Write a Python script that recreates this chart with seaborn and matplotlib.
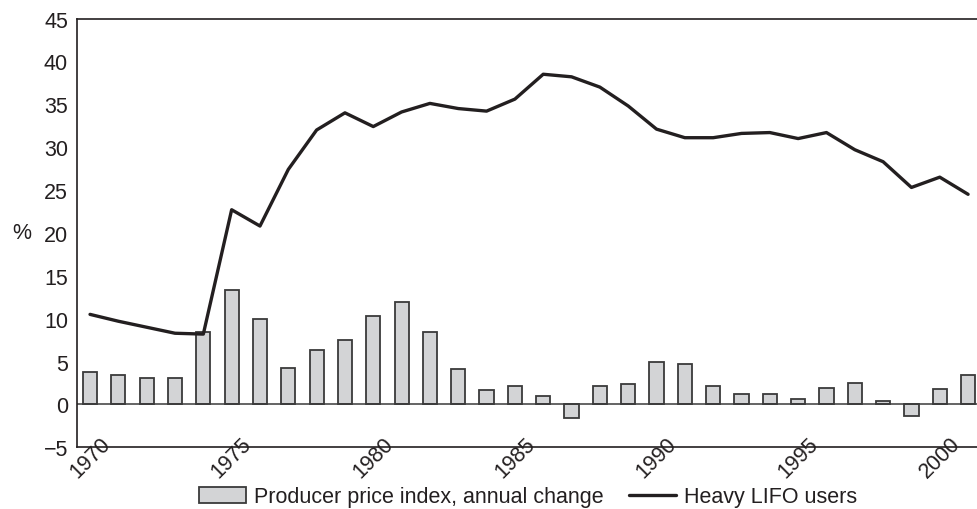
import numpy as np
import pandas as pd
import matplotlib
matplotlib.use("Agg")
import matplotlib.pyplot as plt
import seaborn as sns
from matplotlib.patches import Patch
from matplotlib.lines import Line2D

# Data
years = list(range(1970, 2002))
ppi_change = [3.8, 3.4, 3.1, 3.1, 8.4, 13.4, 10.0, 4.3, 6.3, 7.5,
              10.3, 12.0, 8.4, 4.1, 1.7, 2.2, 1.0, -1.6, 2.1, 2.4,
              5.0, 4.7, 2.1, 1.2, 1.2, 0.6, 1.9, 2.5, 0.4, -1.3,
              1.8, 3.4]
lifo_users = [10.5, 9.7, 9.0, 8.3, 8.2, 22.7, 20.8, 27.4, 32.0, 34.0,
              32.4, 34.1, 35.1, 34.5, 34.2, 35.6, 38.5, 38.2, 37.0, 34.8,
              32.1, 31.1, 31.1, 31.6, 31.7, 31.0, 31.7, 29.7, 28.3, 25.3,
              26.5, 24.5]
tick_years = [1970, 1975, 1980, 1985, 1990, 1995, 2000]
bar_label = "Producer price index, annual change"
line_label = "Heavy LIFO users"

df = pd.DataFrame({"year": years, "ppi": ppi_change, "lifo": lifo_users})

sns.set_style("white")
plt.rcParams['font.family'] = ['Liberation Sans', 'DejaVu Sans']
ink = "#231f20"
fs = 15.5

fig = plt.figure(figsize=(9.78, 5.10), dpi=100)
ax = fig.add_axes([77 / 978, 1 - 448.3 / 510, 1 - 77 / 978, (448.3 - 19.5) / 510])

sns.barplot(data=df, x="year", y="ppi", native_scale=True, width=0.5,
            color="#d3d4d6", edgecolor="#3a3a3a", linewidth=1.3,
            saturation=1, ax=ax)
sns.lineplot(data=df, x="year", y="lifo", color=ink, linewidth=2.4, ax=ax)

ax.axhline(0, color="#3a3a3a", linewidth=1.1, zorder=1)

ax.set_ylim(-5, 45)
ax.set_xlim(1969.54, 2001.35)
ax.set_yticks(range(-5, 50, 5))
ax.set_yticklabels(["\u22125"] + [str(v) for v in range(0, 50, 5)])
ax.set_xticks(tick_years)
ax.set_xticklabels([str(y) for y in tick_years], rotation=45,
                   ha="center", va="center")
ax.tick_params(axis="y", direction="in", length=6, width=1, color=ink,
               labelsize=fs, labelcolor=ink, pad=6.5)
ax.tick_params(axis="x", length=0, labelsize=fs, labelcolor=ink, pad=7)

ax.set_xlabel("")
ax.set_ylabel("%", rotation=0, fontsize=fs, color=ink, ha="center", va="center")
ax.yaxis.set_label_coords((22 - 77) / 901, 0.5)

for side in ["left", "top", "bottom"]:
    ax.spines[side].set_visible(True)
    ax.spines[side].set_color(ink)
    ax.spines[side].set_linewidth(1.2)
ax.spines["right"].set_visible(False)

handles = [Patch(facecolor="#d3d4d6", edgecolor="#3a3a3a", linewidth=1.3),
           Line2D([], [], color=ink, linewidth=2.4)]
fig.legend(handles, [bar_label, line_label], loc="center",
           bbox_to_anchor=(528 / 978, 1 - 498 / 510), ncol=2, frameon=False,
           fontsize=fs, handlelength=2.2, handleheight=0.8,
           columnspacing=1.15, handletextpad=0.37, labelcolor=ink)

fig.savefig("out.png", dpi=100)
